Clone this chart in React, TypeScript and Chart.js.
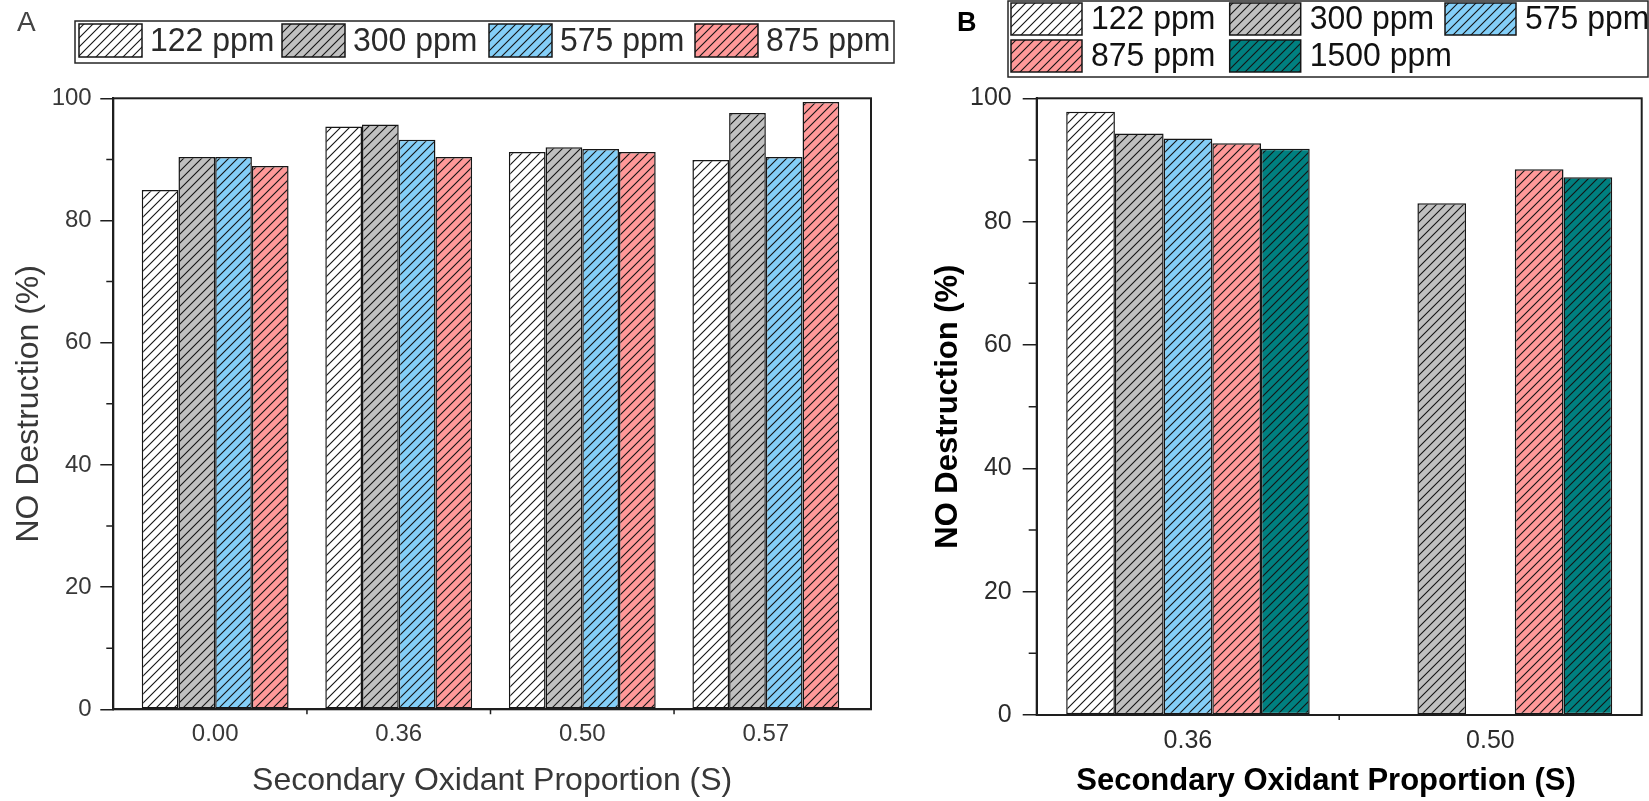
import React, { useEffect, useRef } from 'react';
import { Chart, registerables } from 'chart.js';

Chart.register(...registerables);

const FONT = "'Liberation Sans', Arial, Helvetica, sans-serif";
const AXIS = '#1e1e1e';

// ---------- Panel A data ----------
const categoriesA = ['0.00', '0.36', '0.50', '0.57'];
const seriesNamesA = ['122 ppm', '300 ppm', '575 ppm', '875 ppm'];
const a122 = [85.0, 95.4, 91.2, 89.9];
const a300 = [90.4, 95.7, 92.0, 97.6];
const a575 = [90.4, 93.2, 91.7, 90.4];
const a875 = [88.9, 90.4, 91.2, 99.4];

// ---------- Panel B data ----------
const categoriesB = ['0.36', '0.50'];
const seriesNamesB = ['122 ppm', '300 ppm', '575 ppm', '875 ppm', '1500 ppm'];
const b122: (number | null)[] = [97.8, null];
const b300: (number | null)[] = [94.3, 83.0];
const b575: (number | null)[] = [93.5, null];
const b875: (number | null)[] = [92.7, 88.5];
const b1500: (number | null)[] = [91.8, 87.2];

const yTickValues = [0, 20, 40, 60, 80, 100];
const yMinorValues = [10, 30, 50, 70, 90];
const xTitle = 'Secondary Oxidant Proportion (S)';
const yTitle = 'NO Destruction (%)';

const fillColors = ['#FFFFFF', '#C0C0C0', '#84CFF8', '#FF9999', '#008080'];

type LegendSpec = {
  box: [number, number, number, number];
  pos: [number, number][];
  sw: number;
  sh: number;
  gap: number;
  fontSize: number;
  sx: number;
  color: string;
};

type PanelSpec = {
  width: number;
  height: number;
  cats: string[];
  names: string[];
  series: (number | null)[][];
  xMin: number;
  xMax: number;
  catPct: number;
  padTop: number;
  padRight: number;
  yWidth: number;
  xHeight: number;
  tickFont: number;
  tickColor: string;
  titleWeight: string;
  titleColor: string;
  titleSize: number;
  yTitlePad: number;
  xTitlePad: number;
  xTitleCenter: number | null;
  xTitleY: number;
  xTickPad: number;
  yTickPad: number;
  majorLen: number;
  minorLen: number;
  label: { text: string; x: number; y: number; font: string; color: string };
  legend: LegendSpec;
};

const specA: PanelSpec = {
  width: 930,
  height: 801,
  cats: categoriesA,
  names: seriesNamesA,
  series: [a122, a300, a575, a875],
  xMin: -0.555,
  xMax: 3.573,
  catPct: 0.8,
  padTop: 98.3,
  padRight: 930 - 871,
  yWidth: 113.3,
  xHeight: 801 - 709.3,
  tickFont: 24,
  tickColor: '#383838',
  titleWeight: 'normal',
  titleColor: '#383838',
  titleSize: 32,
  yTitlePad: 10,
  xTitlePad: 1,
  xTitleCenter: null,
  xTitleY: 781,
  xTickPad: 11,
  yTickPad: 8.6,
  majorLen: 13,
  minorLen: 7,
  label: { text: 'A', x: 17, y: 23, font: `normal 28px ${FONT}`, color: '#444' },
  legend: {
    box: [75, 21, 819, 42],
    pos: [[79, 24], [282, 24], [489, 24], [695, 24]],
    sw: 63,
    sh: 33,
    gap: 8,
    fontSize: 34,
    sx: 0.94,
    color: '#2a2a2a',
  },
};

const specB: PanelSpec = {
  width: 719,
  height: 801,
  cats: categoriesB,
  names: seriesNamesB,
  series: [b122, b300, b575, b875, b1500],
  xMin: -0.5,
  xMax: 1.5,
  catPct: 0.805,
  padTop: 98.3,
  padRight: 719 - 711.7,
  yWidth: 106.7,
  xHeight: 801 - 715,
  tickFont: 25,
  tickColor: '#2c2c2c',
  titleWeight: 'bold',
  titleColor: '#000',
  titleSize: 31,
  yTitlePad: 0,
  xTitlePad: 1.4,
  xTitleCenter: 1326 - 930,
  xTitleY: 781,
  xTickPad: 10.7,
  yTickPad: 11,
  majorLen: 14,
  minorLen: 8,
  label: { text: 'B', x: 27, y: 24, font: `bold 27px ${FONT}`, color: '#000' },
  legend: {
    box: [78, 1, 640, 76],
    pos: [[81, 3], [299.7, 3], [515, 3], [81, 40], [299.7, 40]],
    sw: 71,
    sh: 32,
    gap: 9,
    fontSize: 34,
    sx: 0.94,
    color: '#111',
  },
};

function makeHatch(ctx: CanvasRenderingContext2D, color: string, period: number): CanvasPattern | string {
  const c = document.createElement('canvas');
  c.width = period;
  c.height = period;
  const g = c.getContext('2d');
  if (!g) return color;
  g.fillStyle = color;
  g.fillRect(0, 0, period, period);
  g.strokeStyle = '#141414';
  g.lineWidth = 1.1;
  g.beginPath();
  g.moveTo(-2, period + 2);
  g.lineTo(period + 2, -2);
  g.moveTo(-2, 2);
  g.lineTo(2, -2);
  g.moveTo(period - 2, period + 2);
  g.lineTo(period + 2, period - 2);
  g.stroke();
  return ctx.createPattern(c, 'repeat') || color;
}

function buildConfig(s: PanelSpec, ctx: CanvasRenderingContext2D): any {
  const datasets = s.series.map((vals, k) => ({
    label: s.names[k],
    data: vals.map((v, i) => ({ x: i, y: v })),
    backgroundColor: makeHatch(ctx, fillColors[k], 9),
    borderColor: '#161616',
    borderWidth: 1.5,
    borderSkipped: false,
    categoryPercentage: s.catPct,
    barPercentage: 1,
  }));
  const catIdx = s.cats.map((_, i) => i);
  const titleFont = { size: s.titleSize, family: FONT, weight: s.titleWeight };

  const decor = {
    id: 'decor',
    afterDraw(chart: any) {
      const c: CanvasRenderingContext2D = chart.ctx;
      const area = chart.chartArea;
      const yScale = chart.scales.y;
      const xScale = chart.scales.x;
      c.save();
      // frame
      c.strokeStyle = AXIS;
      c.lineWidth = 2;
      c.strokeRect(area.left, area.top, area.right - area.left, area.bottom - area.top);
      // minor y ticks
      c.lineWidth = 1.5;
      c.beginPath();
      yMinorValues.forEach((v) => {
        const py = yScale.getPixelForValue(v);
        c.moveTo(area.left - s.minorLen, py);
        c.lineTo(area.left, py);
      });
      // x ticks between categories
      for (let i = 0; i < s.cats.length - 1; i++) {
        const px = xScale.getPixelForValue(i + 0.5);
        c.moveTo(px, area.bottom);
        c.lineTo(px, area.bottom + 5);
      }
      c.stroke();
      // x title drawn manually when offset from the plot centre
      if (s.xTitleCenter !== null) {
        c.font = `${s.titleWeight} ${s.titleSize}px ${FONT}`;
        c.fillStyle = s.titleColor;
        c.textAlign = 'center';
        c.textBaseline = 'middle';
        c.fillText(xTitle, s.xTitleCenter, s.xTitleY);
      }
      // panel label
      c.font = s.label.font;
      c.fillStyle = s.label.color;
      c.textBaseline = 'middle';
      c.textAlign = 'left';
      c.fillText(s.label.text, s.label.x, s.label.y);
      // legend
      const L = s.legend;
      c.strokeStyle = '#262626';
      c.lineWidth = 1.5;
      c.strokeRect(L.box[0], L.box[1], L.box[2], L.box[3]);
      chart.data.datasets.forEach((ds: any, k: number) => {
        const [x, y] = L.pos[k];
        c.fillStyle = ds.backgroundColor;
        c.fillRect(x, y, L.sw, L.sh);
        c.strokeStyle = '#161616';
        c.lineWidth = 1.5;
        c.strokeRect(x, y, L.sw, L.sh);
        c.font = `normal ${L.fontSize}px ${FONT}`;
        c.fillStyle = L.color;
        c.textBaseline = 'middle';
        c.textAlign = 'left';
        c.save();
        c.translate(x + L.sw + L.gap, y + L.sh / 2 + 1);
        c.scale(L.sx, 1);
        c.fillText(ds.label, 0, 0);
        c.restore();
      });
      c.restore();
    },
  };

  return {
    type: 'bar',
    data: { datasets },
    options: {
      responsive: false,
      maintainAspectRatio: false,
      animation: false,
      layout: { padding: { left: 0, top: s.padTop, right: s.padRight, bottom: 0 } },
      plugins: { legend: { display: false }, tooltip: { enabled: false } },
      scales: {
        x: {
          type: 'linear',
          min: s.xMin,
          max: s.xMax,
          offset: false,
          afterBuildTicks: (axis: any) => {
            axis.ticks = catIdx.map((v) => ({ value: v }));
          },
          afterFit: (axis: any) => {
            axis.height = s.xHeight;
          },
          ticks: {
            callback: (v: any) => s.cats[v as number] ?? '',
            autoSkip: false,
            maxRotation: 0,
            minRotation: 0,
            padding: s.xTickPad,
            color: s.tickColor,
            font: { size: s.tickFont, family: FONT },
          },
          grid: { display: false, drawTicks: false, offset: false },
          border: { display: true, color: AXIS, width: 2 },
          title: {
            display: s.xTitleCenter === null,
            text: xTitle,
            color: s.titleColor,
            font: titleFont,
            padding: { top: 0, bottom: s.xTitlePad },
          },
        },
        y: {
          type: 'linear',
          min: 0,
          max: 100,
          afterBuildTicks: (axis: any) => {
            axis.ticks = yTickValues.map((v) => ({ value: v }));
          },
          afterFit: (axis: any) => {
            axis.width = s.yWidth;
          },
          ticks: {
            padding: s.yTickPad,
            color: s.tickColor,
            font: { size: s.tickFont, family: FONT },
          },
          grid: {
            display: true,
            drawOnChartArea: false,
            drawTicks: true,
            tickLength: s.majorLen,
            color: AXIS,
            lineWidth: 1.5,
          },
          border: { display: true, color: AXIS, width: 2 },
          title: {
            display: true,
            text: yTitle,
            color: s.titleColor,
            font: titleFont,
            padding: { top: s.yTitlePad, bottom: 0 },
          },
        },
      },
    },
    plugins: [decor],
  };
}

function Panel({ spec, left }: { spec: PanelSpec; left: number }) {
  const ref = useRef<HTMLCanvasElement>(null);
  useEffect(() => {
    const canvas = ref.current;
    if (!canvas) return;
    const ctx = canvas.getContext('2d');
    if (!ctx) return;
    const chart = new Chart(ctx, buildConfig(spec, ctx));
    return () => chart.destroy();
  }, [spec]);
  return (
    <canvas
      ref={ref}
      width={spec.width}
      height={spec.height}
      style={{ position: 'absolute', left, top: 0, width: spec.width, height: spec.height }}
    />
  );
}

export default function App() {
  return (
    <div
      style={{
        position: 'fixed',
        left: 0,
        top: 0,
        width: 1649,
        height: 801,
        background: '#ffffff',
        overflow: 'hidden',
      }}
    >
      <Panel spec={specA} left={0} />
      <Panel spec={specB} left={930} />
    </div>
  );
}
